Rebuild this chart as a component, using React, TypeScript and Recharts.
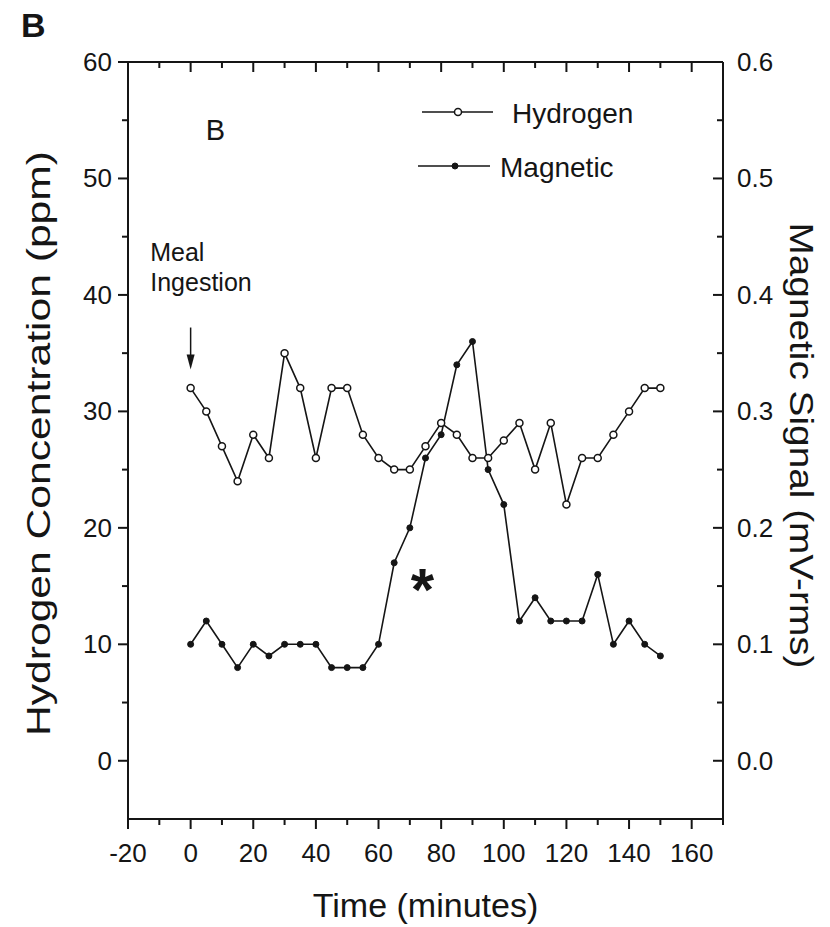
import React from "react"
import {
  ComposedChart,
  Line,
  XAxis,
  YAxis,
  Legend,
  ReferenceDot,
  ReferenceLine,
} from "recharts"

// time after meal, minutes
const times = [0, 5, 10, 15, 20, 25, 30, 35, 40, 45, 50, 55, 60, 65, 70, 75, 80, 85, 90, 95, 100, 105, 110, 115, 120, 125, 130, 135, 140, 145, 150]
// breath hydrogen, ppm
const hydrogen = [32, 30, 27, 24, 28, 26, 35, 32, 26, 32, 32, 28, 26, 25, 25, 27, 29, 28, 26, 26, 27.5, 29, 25, 29, 22, 26, 26, 28, 30, 32, 32]
// magnetic signal, mV-rms
const magnetic = [0.1, 0.12, 0.1, 0.08, 0.1, 0.09, 0.1, 0.1, 0.1, 0.08, 0.08, 0.08, 0.1, 0.17, 0.2, 0.26, 0.28, 0.34, 0.36, 0.25, 0.22, 0.12, 0.14, 0.12, 0.12, 0.12, 0.16, 0.1, 0.12, 0.1, 0.09]

const xTicks = [-20, -10, 0, 10, 20, 30, 40, 50, 60, 70, 80, 90, 100, 110, 120, 130, 140, 150, 160, 170]
const leftTicks = [0, 5, 10, 15, 20, 25, 30, 35, 40, 45, 50, 55, 60]
const rightTicks = [0, 0.05, 0.1, 0.15, 0.2, 0.25, 0.3, 0.35, 0.4, 0.45, 0.5, 0.55, 0.6]

const data = times.map((t, i) => ({ time: t, hydrogen: hydrogen[i], magnetic: magnetic[i] }))

const INK = "#151515"
const FONT = "'Liberation Sans', Arial, sans-serif"
const TICK_FS = 26

function BottomTick(props: any) {
  const { x, y, payload } = props
  const v = payload.value
  const major = Math.round(v) % 20 === 0
  return (
    <g>
      <line x1={x} x2={x} y1={y} y2={y + (major ? 10 : 6)} stroke={INK} strokeWidth={2} />
      {major && v <= 160 && (
        <text x={x} y={y + 34} textAnchor="middle" dominantBaseline="central" fontSize={TICK_FS} fill={INK} fontFamily={FONT}>
          {v}
        </text>
      )}
    </g>
  )
}

function TopTick(props: any) {
  const { x, y, payload } = props
  const major = Math.round(payload.value) % 20 === 0
  return <line x1={x} x2={x} y1={y} y2={y + (major ? 10 : 6)} stroke={INK} strokeWidth={2} />
}

function LeftTick(props: any) {
  const { x, y, payload } = props
  const v = payload.value
  const major = Math.round(v) % 10 === 0
  return (
    <g>
      <line x1={x - (major ? 10 : 6)} x2={x} y1={y} y2={y} stroke={INK} strokeWidth={2} />
      {major && (
        <text x={x - 16} y={y} textAnchor="end" dominantBaseline="central" fontSize={TICK_FS} fill={INK} fontFamily={FONT}>
          {v}
        </text>
      )}
    </g>
  )
}

function RightTick(props: any) {
  const { x, y, payload } = props
  const v = payload.value
  const major = Math.round(v * 100) % 10 === 0
  return (
    <g>
      <line x1={x - (major ? 10 : 6)} x2={x} y1={y} y2={y} stroke={INK} strokeWidth={2} />
      {major && (
        <text x={x + 14} y={y} textAnchor="start" dominantBaseline="central" fontSize={TICK_FS} fill={INK} fontFamily={FONT}>
          {v.toFixed(1)}
        </text>
      )}
    </g>
  )
}

function LeftTitle(props: any) {
  const vb = props.viewBox || { x: 68, y: 62, width: 60, height: 757 }
  const cx = vb.x + vb.width - 90
  const cy = vb.y + vb.height / 2 + 3
  return (
    <text x={cx} y={cy} transform={`rotate(-90 ${cx} ${cy})`} textAnchor="middle" dominantBaseline="central" fontSize={33} fill={INK} fontFamily={FONT} textLength={585} lengthAdjust="spacingAndGlyphs">
      Hydrogen Concentration (ppm)
    </text>
  )
}

function RightTitle(props: any) {
  const vb = props.viewBox || { x: 723, y: 62, width: 60, height: 757 }
  const cx = vb.x + 78
  const cy = vb.y + vb.height / 2 + 5
  return (
    <text x={cx} y={cy} transform={`rotate(90 ${cx} ${cy})`} textAnchor="middle" dominantBaseline="central" fontSize={33} fill={INK} fontFamily={FONT} textLength={446} lengthAdjust="spacingAndGlyphs">
      Magnetic Signal (mV-rms)
    </text>
  )
}

function BottomTitle(props: any) {
  const vb = props.viewBox || { x: 128, y: 819, width: 595, height: 40 }
  const cx = vb.x + vb.width / 2
  const cy = vb.y + 86
  return (
    <text x={cx} y={cy} textAnchor="middle" dominantBaseline="central" fontSize={34} fill={INK} fontFamily={FONT}>
      Time (minutes)
    </text>
  )
}

function LegendBox() {
  return (
    <svg width={240} height={90} style={{ overflow: "visible", display: "block" }}>
      <line x1={7} x2={78} y1={22} y2={22} stroke={INK} strokeWidth={1.5} />
      <circle cx={43} cy={22} r={3.5} fill="#fff" stroke={INK} strokeWidth={1.5} />
      <text x={97} y={23} dominantBaseline="central" fontSize={28} fill={INK} fontFamily={FONT}>
        Hydrogen
      </text>
      <line x1={3} x2={75} y1={76} y2={76} stroke={INK} strokeWidth={1.5} />
      <circle cx={40} cy={76} r={3} fill={INK} stroke={INK} />
      <text x={85} y={77} dominantBaseline="central" fontSize={28} fill={INK} fontFamily={FONT}>
        Magnetic
      </text>
    </svg>
  )
}

const textShape = (label: string, size: number, anchor: string = "start", weight: string = "normal") => (p: any) => (
  <text x={p.cx} y={p.cy} textAnchor={anchor} dominantBaseline="central" fontSize={size} fontWeight={weight} fill={INK} fontFamily={FONT}>
    {label}
  </text>
)

const arrowHead = (p: any) => (
  <polygon points={`${p.cx - 4},${p.cy - 15} ${p.cx + 4},${p.cy - 15} ${p.cx},${p.cy}`} fill={INK} />
)

export default function App() {
  return (
    <div style={{ position: "absolute", left: 0, top: 0, width: 830, height: 927, background: "#fff", fontFamily: FONT }}>
      <div style={{ position: "absolute", left: 21, top: 6, fontSize: 34, fontWeight: "bold", color: INK, fontFamily: FONT }}>B</div>
      <ComposedChart width={830} height={927} data={data} margin={{ top: 61, right: 47, bottom: 68, left: 68 }}>
        <XAxis
          xAxisId="bottom"
          dataKey="time"
          type="number"
          domain={[-20, 170]}
          ticks={xTicks}
          interval={0}
          tickSize={0}
          tickMargin={0}
          tickLine={false}
          tick={<BottomTick />}
          axisLine={{ stroke: INK, strokeWidth: 2 }}
          height={40}
          label={<BottomTitle />}
        />
        <XAxis
          xAxisId="top"
          orientation="top"
          dataKey="time"
          type="number"
          domain={[-20, 170]}
          ticks={xTicks}
          interval={0}
          tickSize={0}
          tickMargin={0}
          tickLine={false}
          tick={<TopTick />}
          axisLine={{ stroke: INK, strokeWidth: 2 }}
          height={1}
        />
        <YAxis
          yAxisId="left"
          type="number"
          domain={[-5, 60]}
          ticks={leftTicks}
          interval={0}
          tickSize={0}
          tickMargin={0}
          tickLine={false}
          tick={<LeftTick />}
          axisLine={{ stroke: INK, strokeWidth: 2 }}
          width={60}
          label={<LeftTitle />}
        />
        <YAxis
          yAxisId="right"
          orientation="right"
          type="number"
          domain={[-0.05, 0.6]}
          ticks={rightTicks}
          interval={0}
          tickSize={0}
          tickMargin={0}
          tickLine={false}
          tick={<RightTick />}
          axisLine={{ stroke: INK, strokeWidth: 2 }}
          width={60}
          label={<RightTitle />}
        />
        <Legend
          layout="horizontal"
          verticalAlign="middle"
          align="center"
          content={() => <LegendBox />}
          wrapperStyle={{ position: "absolute", left: 415, top: 90, width: 240, height: 90 }}
        />
        <Line
          xAxisId="bottom"
          yAxisId="left"
          type="linear"
          dataKey="hydrogen"
          name="Hydrogen"
          stroke={INK}
          strokeWidth={1.6}
          dot={{ r: 3.5, fill: "#fff", stroke: INK, strokeWidth: 1.5 }}
          isAnimationActive={false}
        />
        <Line
          xAxisId="bottom"
          yAxisId="right"
          type="linear"
          dataKey="magnetic"
          name="Magnetic"
          stroke={INK}
          strokeWidth={1.6}
          dot={{ r: 3, fill: INK, stroke: INK, strokeWidth: 1 }}
          isAnimationActive={false}
        />
        <ReferenceLine
          xAxisId="bottom"
          yAxisId="left"
          segment={[{ x: 0, y: 37.2 }, { x: 0, y: 34.5 }]}
          stroke={INK}
          strokeWidth={1.5}
        />
        <ReferenceDot xAxisId="bottom" yAxisId="left" x={0} y={33.6} r={0} shape={arrowHead} />
        <ReferenceDot xAxisId="bottom" yAxisId="left" x={-12.9} y={43.7} r={0} shape={textShape("Meal", 25)} />
        <ReferenceDot xAxisId="bottom" yAxisId="left" x={-12.9} y={41.1} r={0} shape={textShape("Ingestion", 25)} />
        <ReferenceDot xAxisId="bottom" yAxisId="left" x={7.9} y={54.2} r={0} shape={textShape("B", 29, "middle")} />
        <ReferenceDot xAxisId="bottom" yAxisId="left" x={74} y={14.7} r={0} shape={textShape("*", 60, "middle", "bold")} />
      </ComposedChart>
    </div>
  )
}
